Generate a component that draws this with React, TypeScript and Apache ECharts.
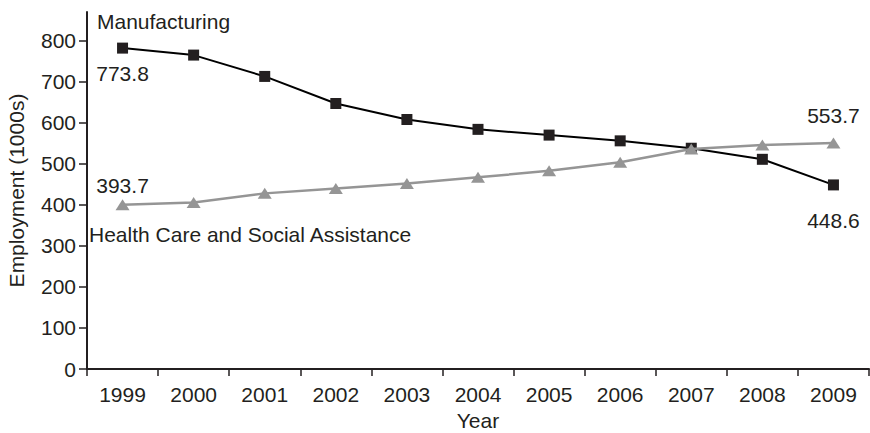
import React, { useEffect, useRef } from "react";
import * as echarts from "echarts";

const years = ["1999", "2000", "2001", "2002", "2003", "2004", "2005", "2006", "2007", "2008", "2009"];
const manufacturing = [782, 765, 713, 647, 608, 584, 570, 556, 538, 511, 448.6];
const healthCare = [400, 406, 428, 440, 452, 467, 483, 504, 536, 546, 551];
const yTickValues = [0, 100, 200, 300, 400, 500, 600, 700, 800];
const manufacturingEndLabels = ["773.8", "448.6"];
const healthEndLabels = ["393.7", "553.7"];

const FONT = "'Liberation Sans', Arial, Helvetica, sans-serif";
const TEXT = "#231f20";
const GRAY = "#959595";
const FS = 21;

export default function App() {
  const ref = useRef<HTMLDivElement>(null);
  useEffect(() => {
    if (!ref.current) return;
    const chart = echarts.init(ref.current, null, { renderer: "svg" });
    const last = years.length - 1;
    const mData = manufacturing.map((v, i) => {
      if (i === 0)
        return { value: v, label: { show: true, formatter: manufacturingEndLabels[0], position: "bottom", distance: 9 } };
      if (i === last)
        return { value: v, label: { show: true, formatter: manufacturingEndLabels[1], position: "bottom", distance: 20 } };
      return v;
    });
    const hData = healthCare.map((v, i) => {
      if (i === 0)
        return { value: v, label: { show: true, formatter: healthEndLabels[0], position: "top", distance: 3 } };
      if (i === last)
        return { value: v, label: { show: true, formatter: healthEndLabels[1], position: "top", distance: 11 } };
      return v;
    });
    chart.setOption({
      animation: false,
      textStyle: { fontFamily: FONT, color: TEXT },
      grid: { left: 87, right: 1, top: 12, bottom: 64, containLabel: false, outerBoundsMode: "none" },
      xAxis: {
        type: "category",
        data: years,
        boundaryGap: true,
        name: "Year",
        nameLocation: "middle",
        nameGap: 41,
        nameTextStyle: { fontSize: FS, color: TEXT, fontFamily: FONT },
        axisLine: { lineStyle: { color: TEXT, width: 2 } },
        axisTick: { show: true, length: 7, lineStyle: { color: TEXT, width: 1.5 } },
        axisLabel: { fontSize: FS, color: TEXT, fontFamily: FONT, margin: 15 },
        splitLine: { show: false },
      },
      yAxis: {
        type: "value",
        min: 0,
        max: 870,
        name: "Employment (1000s)",
        nameLocation: "middle",
        nameGap: 60,
        nameTextStyle: { fontSize: FS, color: TEXT, fontFamily: FONT },
        axisLine: { show: true, lineStyle: { color: TEXT, width: 2 } },
        axisTick: { show: true, length: 8, customValues: yTickValues, lineStyle: { color: TEXT, width: 1.5 } },
        axisLabel: { fontSize: FS, color: TEXT, fontFamily: FONT, margin: 11, customValues: yTickValues },
        splitLine: { show: false },
      },
      graphic: [
        {
          type: "text",
          left: 97,
          top: 11,
          style: { text: "Manufacturing", fontSize: FS, fill: TEXT, fontFamily: FONT },
        },
        {
          type: "text",
          left: 89,
          top: 224,
          style: { text: "Health Care and Social Assistance", fontSize: FS, fill: TEXT, fontFamily: FONT },
        },
      ],
      series: [
        {
          name: "Manufacturing",
          type: "line",
          data: mData,
          symbol: "rect",
          symbolSize: 11,
          showAllSymbol: true,
          itemStyle: { color: TEXT },
          lineStyle: { color: "#000", width: 2 },
          label: { fontSize: FS, color: TEXT, fontFamily: FONT },
          z: 3,
        },
        {
          name: "Health Care and Social Assistance",
          type: "line",
          data: hData,
          symbol: "triangle",
          symbolSize: [14, 11],
          showAllSymbol: true,
          itemStyle: { color: GRAY },
          lineStyle: { color: GRAY, width: 2.5 },
          label: { fontSize: FS, color: TEXT, fontFamily: FONT },
          z: 4,
        },
      ],
    });
    return () => chart.dispose();
  }, []);
  return <div ref={ref} style={{ width: 870, height: 433, position: "absolute", left: 0, top: 0 }} />;
}
